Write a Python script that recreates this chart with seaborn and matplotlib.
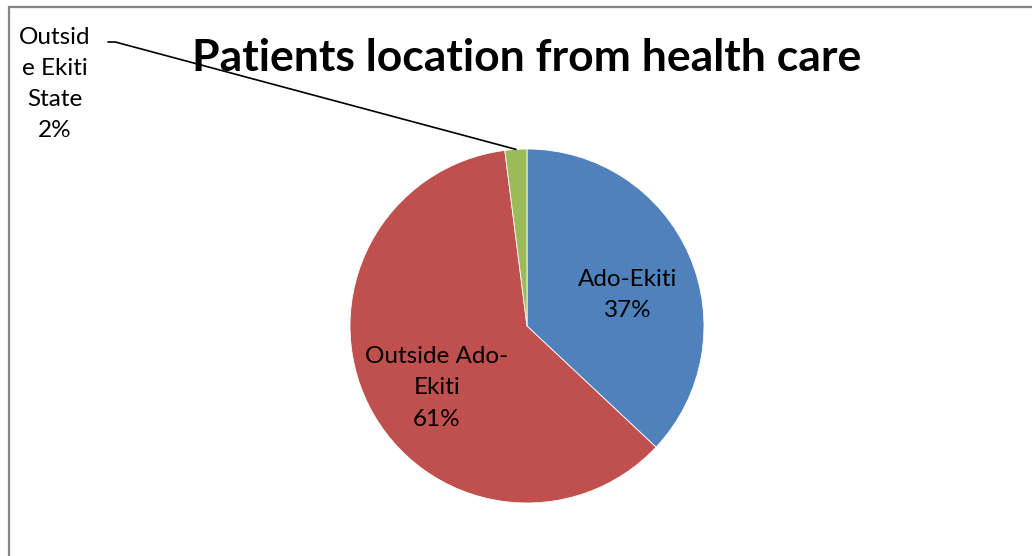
import matplotlib
matplotlib.use("Agg")
import matplotlib.pyplot as plt
from matplotlib.patches import Rectangle
import numpy as np
import seaborn as sns

# Data
locations = ["Ado-Ekiti", "Outside Ado-Ekiti", "Outside Ekiti State"]
shares = [37, 61, 2]
label_text = ["Ado-Ekiti", "Outside Ado-\nEkiti", "Outsid\ne Ekiti\nState"]
slice_colors = ["#4F81BD", "#C0504D", "#9BBB59"]
title = "Patients location from health care"

W, H = 1032, 556


def make_chart():
    sns.set_theme(style="white")
    plt.rcParams["font.family"] = ["Lato", "DejaVu Sans"]
    plt.rcParams["text.color"] = "black"

    fig = plt.figure(figsize=(W / 100, H / 100), dpi=100)
    fig.patch.set_facecolor("white")

    # pie axes: centre (527, 326) px, radius 177 px
    cx, cy, r = 527, 326, 177
    ax = fig.add_axes([(cx - r) / W, (H - cy - r) / H, 2 * r / W, 2 * r / H])

    wedges, _, autotexts = ax.pie(
        shares,
        colors=sns.color_palette(slice_colors),
        startangle=90,
        counterclock=False,
        autopct="%1.0f%%",
        pctdistance=0.6,
        wedgeprops=dict(linewidth=0.6, edgecolor="white"),
        textprops=dict(fontsize=17.5, color="black"),
    )
    ax.set_xlim(-1, 1)
    ax.set_ylim(-1, 1)

    # Excel-like label placement inside the big slices (radius units)
    inside_pos = [(0.57, 0.175), (-0.51, -0.35)]
    for i, t in enumerate(autotexts):
        t.set_text(label_text[i] + "\n" + t.get_text())
        t.set_linespacing(1.6)
        t.set_ha("center")
        t.set_va("center")
        if i < len(inside_pos):
            t.set_position(inside_pos[i])

    # small slice: label outside with a leader line
    autotexts[2].set_visible(False)
    w = wedges[2]
    mid = np.deg2rad((w.theta1 + w.theta2) / 2)
    ax.annotate(
        "",
        xy=(np.cos(mid), np.sin(mid)),
        xycoords="data",
        xytext=(108, H - 42),
        textcoords="figure pixels",
        arrowprops=dict(arrowstyle="-", color="black", lw=1.2,
                        shrinkA=0, shrinkB=0,
                        connectionstyle="angle,angleA=0,angleB=-15"),
        annotation_clip=False,
    )
    fig.text(55 / W, 1 - 84 / H,
             label_text[2] + "\n" + f"{shares[2]}%",
             ha="center", va="center", fontsize=17.5, linespacing=1.6,
             color="black")

    fig.text(527 / W, 1 - 58 / H, title, ha="center", va="center",
             fontsize=32, fontweight="bold", color="black")

    # chart border
    fig.patches.append(Rectangle((9 / W, -0.1), 1.2, (H - 7) / H + 0.1,
                                 transform=fig.transFigure, fill=False,
                                 edgecolor="#868686", linewidth=1.6))

    fig.savefig("out.png", dpi=100)
    plt.close(fig)


if __name__ == "__main__":
    make_chart()
